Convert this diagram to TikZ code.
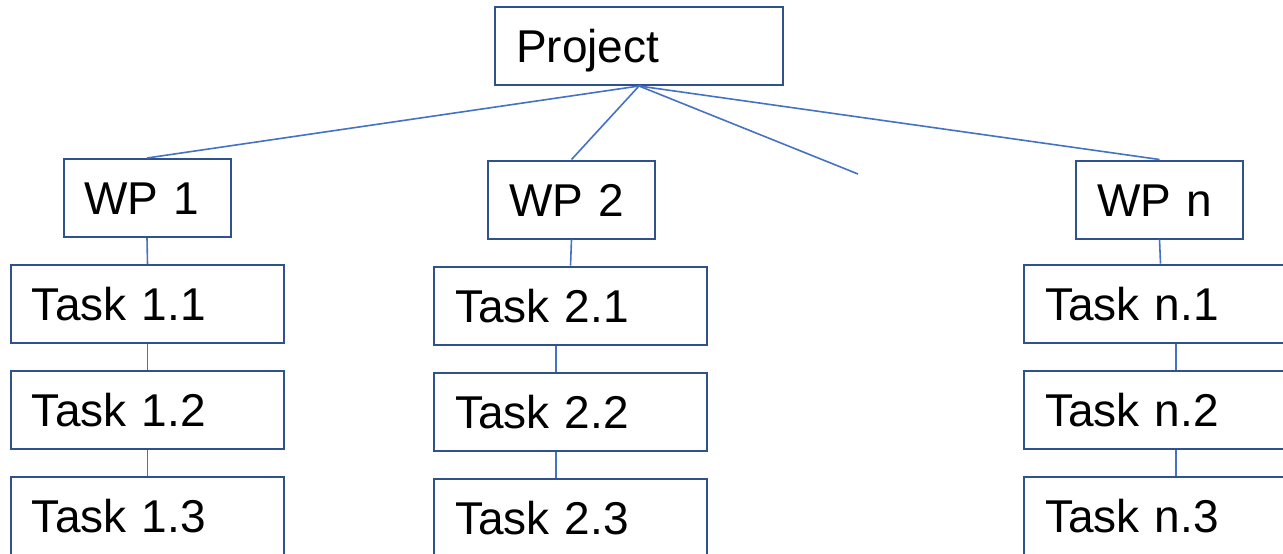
\documentclass[tikz,border=0pt]{standalone}
\usepackage{fontspec}
\setmainfont{Liberation Sans}
\definecolor{boxline}{RGB}{47,82,143}
\definecolor{linkline}{RGB}{68,114,196}

\begin{document}
\begin{tikzpicture}[x=0.5pt,y=-0.5pt]
  \tikzstyle{every node}=[draw=boxline,line width=1pt,fill=white,
    font=\fontsize{23}{28}\selectfont,align=left,
    text height=16.6pt,text depth=0pt,minimum height=39pt,inner xsep=10.5pt]
  \tikzstyle{top}=[text width=123pt]
  \tikzstyle{wp}=[text width=62.5pt]
  \tikzstyle{task}=[text width=115.5pt]
  \tikzstyle{link}=[draw=linkline,line width=0.8pt]
  \clip (0,0) rectangle (1283,553);
  \node[top] (p) at (639,46) {Project};
  \node[wp] (w1) at (147,198) {WP 1};
  \node[wp] (w2) at (571.5,199.5) {WP 2};
  \node[wp] (wn) at (1159.5,199.5) {WP n};
  \coordinate (more) at (858,174);
  % tasks under each work package
  \node[task] (t11) at (147.5,304) {Task 1.1};
  \node[task] (t12) at (147.5,409.5) {Task 1.2};
  \node[task] (t13) at (147.5,516) {Task 1.3};
  \node[task] (t21) at (570.5,305.5) {Task 2.1};
  \node[task] (t22) at (570.5,411.5) {Task 2.2};
  \node[task] (t23) at (570.5,517.5) {Task 2.3};
  \node[task] (tn1) at (1160.5,303.5) {Task n.1};
  \node[task] (tn2) at (1160.5,409.5) {Task n.2};
  \node[task] (tn3) at (1160.5,516) {Task n.3};
  \path[link]
  (p.south) edge (w1.north)
  (p.south) edge (w2.north)
  (p.south) edge (more)
  (p.south) edge (wn.north);
  \path[link]
  (w1.south) edge (t11.north)
  (t11.south) edge (t12.north)
  (t12.south) edge (t13.north)
  (w2.south) edge (t21.north)
  ([xshift=-7.25pt]t21.south) edge ([xshift=-7.25pt]t22.north)
  ([xshift=-7.25pt]t22.south) edge ([xshift=-7.25pt]t23.north)
  (wn.south) edge (tn1.north)
  ([xshift=7.75pt]tn1.south) edge ([xshift=7.75pt]tn2.north)
  ([xshift=7.75pt]tn2.south) edge ([xshift=7.75pt]tn3.north);
\end{tikzpicture}
\end{document}
